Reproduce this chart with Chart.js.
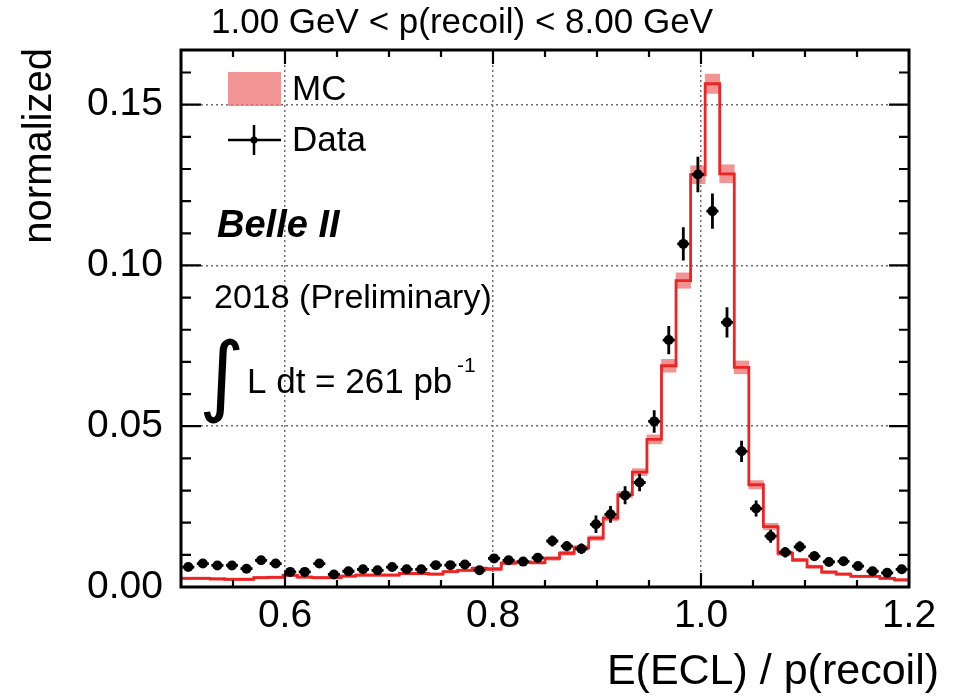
<!DOCTYPE html>
<html>
<head>
<meta charset="utf-8">
<script src="https://cdn.jsdelivr.net/npm/chart.js@4.4.0/dist/chart.umd.min.js"></script>
<style>
  html, body { margin: 0; padding: 0; background: #fff; }
  #plot { display: block; }
</style>
</head>
<body>
<canvas id="plot" width="959" height="696"></canvas>
<script>
// histogram binning: 50 bins from 0.5 to 1.2
const binLow = 0.5;
const binHigh = 1.2;
const binWidth = 0.014;

// data points (normalized) and their errors
const dataVals = [
  0.0062, 0.0073, 0.0067, 0.0067, 0.0057, 0.0083, 0.0073, 0.0047, 0.0047, 0.0073,
  0.0039, 0.0049, 0.0055, 0.0052, 0.0062, 0.0055, 0.0055, 0.0068, 0.0068, 0.0070,
  0.0052, 0.0089, 0.0083, 0.0079, 0.0091, 0.0143, 0.0127, 0.0119, 0.0195, 0.0226,
  0.0285, 0.0325, 0.0515, 0.0768, 0.1067, 0.1283, 0.1169, 0.0823, 0.0422, 0.0244,
  0.0158, 0.0108, 0.0125, 0.0096, 0.0078, 0.0080, 0.0065, 0.0049, 0.0044, 0.0055
];
const dataErr = [
  0.0012, 0.0012, 0.0012, 0.0012, 0.0011, 0.0013, 0.0012, 0.0010, 0.0010, 0.0012,
  0.0009, 0.0010, 0.0011, 0.0010, 0.0011, 0.0011, 0.0011, 0.0012, 0.0012, 0.0012,
  0.0010, 0.0013, 0.0013, 0.0013, 0.0014, 0.0017, 0.0016, 0.0016, 0.0027, 0.0026,
  0.0028, 0.0027, 0.0035, 0.0044, 0.0052, 0.0055, 0.0055, 0.0047, 0.0033, 0.0025,
  0.0020, 0.0016, 0.0017, 0.0015, 0.0013, 0.0013, 0.0012, 0.0010, 0.0010, 0.0011
];

// MC histogram and its uncertainty band
const mcVals = [
  0.0027, 0.0027, 0.0025, 0.0024, 0.0024, 0.0029, 0.0030, 0.0036, 0.0031, 0.0029,
  0.0029, 0.0034, 0.0037, 0.0037, 0.0037, 0.0042, 0.0042, 0.0040, 0.0048, 0.0052,
  0.0058, 0.0056, 0.0074, 0.0077, 0.0076, 0.0089, 0.0105, 0.0122, 0.0152, 0.0214,
  0.0287, 0.0357, 0.0459, 0.0688, 0.0953, 0.1282, 0.1565, 0.1285, 0.0683, 0.0318,
  0.0188, 0.0105, 0.0084, 0.0063, 0.0046, 0.0040, 0.0033, 0.0033, 0.0027, 0.0022
];
const mcErr = [
  0.0004, 0.0004, 0.0004, 0.0004, 0.0004, 0.0004, 0.0004, 0.0004, 0.0004, 0.0004,
  0.0004, 0.0004, 0.0004, 0.0004, 0.0004, 0.0004, 0.0004, 0.0004, 0.0004, 0.0004,
  0.0005, 0.0005, 0.0005, 0.0005, 0.0005, 0.0006, 0.0006, 0.0007, 0.0007, 0.0008,
  0.0010, 0.0011, 0.0014, 0.0020, 0.0024, 0.0028, 0.0030, 0.0028, 0.0020, 0.0013,
  0.0010, 0.0007, 0.0005, 0.0005, 0.0005, 0.0004, 0.0004, 0.0004, 0.0004, 0.0004
];

const xTickValues = [0.6, 0.8, 1.0, 1.2];
const xTickLabels = ['0.6', '0.8', '1.0', '1.2'];
const xMinorTicks = [0.55, 0.6, 0.65, 0.7, 0.75, 0.8, 0.85, 0.9, 0.95, 1.0, 1.05, 1.1, 1.15];
const xMajorTicks = [0.6, 0.8, 1.0];
const yTickValues = [0, 0.05, 0.10, 0.15];
const yTickLabels = ['0.00', '0.05', '0.10', '0.15'];
const yMinorTicks = [0.01, 0.02, 0.03, 0.04, 0.05, 0.06, 0.07, 0.08, 0.09, 0.10,
                     0.11, 0.12, 0.13, 0.14, 0.15, 0.16];
const yMajorTicks = [0.05, 0.10, 0.15];
const yMax = 0.167;

const titleText = '1.00 GeV < p(recoil) < 8.00 GeV';
const xTitle = 'E(ECL) / p(recoil)';
const yTitle = 'normalized';

const FONT = '"Liberation Sans", Arial, Helvetica, sans-serif';
const MC_LINE = '#ec2424';
const MC_BAND = 'rgba(238, 112, 112, 0.75)';
const dataErrX = 0.0058;   // half length of the horizontal bar on data points

const binCenters = dataVals.map((_, i) => binLow + (i + 0.5) * binWidth);
const dataPoints = dataVals.map((v, i) => ({ x: binCenters[i], y: v }));
// step line: one point at each lower bin edge, plus the upper edge of the last bin
const mcLine = mcVals.map((v, i) => ({ x: binLow + i * binWidth, y: v }));
mcLine.push({ x: binHigh, y: mcVals[mcVals.length - 1] });
const mcBand = mcVals.map((v, i) => ({ x: binCenters[i], y: [v - mcErr[i], v + mcErr[i]] }));

const decorPlugin = {
  id: 'decor',
  afterDatasetsDraw(chart) {
    const ctx = chart.ctx, xs = chart.scales.x, ys = chart.scales.y;
    ctx.save();
    ctx.strokeStyle = '#000';
    ctx.lineWidth = 2.8;
    ctx.beginPath();
    binCenters.forEach((c, i) => {
      const px = xs.getPixelForValue(c);
      const py = ys.getPixelForValue(dataVals[i]);
      ctx.moveTo(px, ys.getPixelForValue(dataVals[i] + dataErr[i]));
      ctx.lineTo(px, ys.getPixelForValue(dataVals[i] - dataErr[i]));
      ctx.moveTo(xs.getPixelForValue(c - dataErrX), py);
      ctx.lineTo(xs.getPixelForValue(c + dataErrX), py);
    });
    ctx.stroke();
    ctx.restore();
  },
  afterDraw(chart) {
    const ctx = chart.ctx, a = chart.chartArea, xs = chart.scales.x, ys = chart.scales.y;
    ctx.save();

    // ROOT style ticks inside the frame, on all four sides
    ctx.strokeStyle = '#000';
    ctx.lineWidth = 2.2;
    ctx.beginPath();
    xMinorTicks.forEach(v => {
      const len = xMajorTicks.includes(v) ? 14 : 7;
      const px = xs.getPixelForValue(v);
      ctx.moveTo(px, a.bottom); ctx.lineTo(px, a.bottom - len);
      ctx.moveTo(px, a.top); ctx.lineTo(px, a.top + len);
    });
    yMinorTicks.forEach(v => {
      const len = yMajorTicks.includes(v) ? 20 : 10;
      const py = ys.getPixelForValue(v);
      ctx.moveTo(a.left, py); ctx.lineTo(a.left + len, py);
      ctx.moveTo(a.right, py); ctx.lineTo(a.right - len, py);
    });
    ctx.stroke();

    ctx.lineWidth = 3;
    ctx.strokeRect(a.left, a.top, a.right - a.left, a.bottom - a.top);

    ctx.fillStyle = '#000';
    ctx.textBaseline = 'middle';

    // title and axis titles
    ctx.font = '35px ' + FONT;
    ctx.textAlign = 'center';
    ctx.fillText(titleText, 462, 23);

    ctx.font = '43px ' + FONT;
    ctx.textAlign = 'right';
    ctx.fillText(xTitle, 939, 672);

    ctx.font = '40px ' + FONT;
    ctx.save();
    ctx.translate(40, a.top - 2);
    ctx.rotate(-Math.PI / 2);
    ctx.textAlign = 'right';
    ctx.fillText(yTitle, 0, 0);
    ctx.restore();

    // legend
    ctx.fillStyle = MC_BAND;
    ctx.fillRect(228, 72, 53, 34);
    ctx.fillStyle = '#000';
    ctx.lineWidth = 2.5;
    ctx.beginPath();
    ctx.moveTo(228, 140); ctx.lineTo(281, 140);
    ctx.moveTo(254, 125); ctx.lineTo(254, 155);
    ctx.stroke();
    ctx.beginPath();
    ctx.arc(254, 140, 3.5, 0, Math.PI * 2);
    ctx.fill();
    ctx.textAlign = 'left';
    ctx.font = '35px ' + FONT;
    ctx.fillText('MC', 292, 90);
    ctx.fillText('Data', 292, 141);

    // experiment labels
    ctx.font = 'italic bold 38px ' + FONT;
    ctx.fillText('Belle II', 217, 227);
    ctx.font = '34px ' + FONT;
    ctx.fillText('2018 (Preliminary)', 214, 299);
    ctx.font = '88px "DejaVu Sans"';
    ctx.fillText('\u222B', 199, 382);
    ctx.font = '35px ' + FONT;
    ctx.fillText('L dt = 261 pb', 247, 383);
    ctx.font = '21px ' + FONT;
    ctx.fillText('-1', 457, 366);

    ctx.restore();
  }
};

new Chart(document.getElementById('plot'), {
  type: 'bar',
  data: {
    datasets: [
      {
        type: 'scatter', label: 'Data', data: dataPoints,
        pointRadius: 5, pointBorderWidth: 0,
        backgroundColor: '#000', borderColor: '#000', order: 0
      },
      {
        type: 'line', label: 'MC', data: mcLine, stepped: 'before',
        borderColor: MC_LINE, borderWidth: 2.8, pointRadius: 0, fill: false, order: 1
      },
      {
        type: 'bar', label: 'MC error', data: mcBand,
        backgroundColor: MC_BAND, borderWidth: 0,
        barPercentage: 1, categoryPercentage: 1, order: 2
      }
    ]
  },
  options: {
    responsive: false,
    animation: false,
    events: [],
    layout: { padding: { top: 50, right: 50, left: 0, bottom: 0 } },
    plugins: {
      legend: { display: false },
      tooltip: { enabled: false },
      title: { display: false }
    },
    scales: {
      x: {
        type: 'linear', min: binLow, max: binHigh, offset: false,
        afterBuildTicks: s => { s.ticks = xTickValues.map(v => ({ value: v })); },
        afterFit: s => { s.height = 109; },
        ticks: {
          callback: (v, i) => xTickLabels[i],
          font: { family: FONT, size: 39 }, color: '#000',
          padding: 6, maxRotation: 0, autoSkip: false
        },
        grid: { color: '#6e6e6e', lineWidth: 1.5, drawTicks: false, offset: false },
        border: { display: false, dash: [2, 3] }
      },
      y: {
        type: 'linear', min: 0, max: yMax,
        afterBuildTicks: s => { s.ticks = yTickValues.map(v => ({ value: v })); },
        afterFit: s => { s.width = 181; },
        ticks: {
          callback: (v, i) => yTickLabels[i],
          font: { family: FONT, size: 39 }, color: '#000',
          padding: 18, autoSkip: false
        },
        grid: { color: '#6e6e6e', lineWidth: 1.5, drawTicks: false },
        border: { display: false, dash: [2, 3] }
      }
    }
  },
  plugins: [decorPlugin]
});
</script>
</body>
</html>
